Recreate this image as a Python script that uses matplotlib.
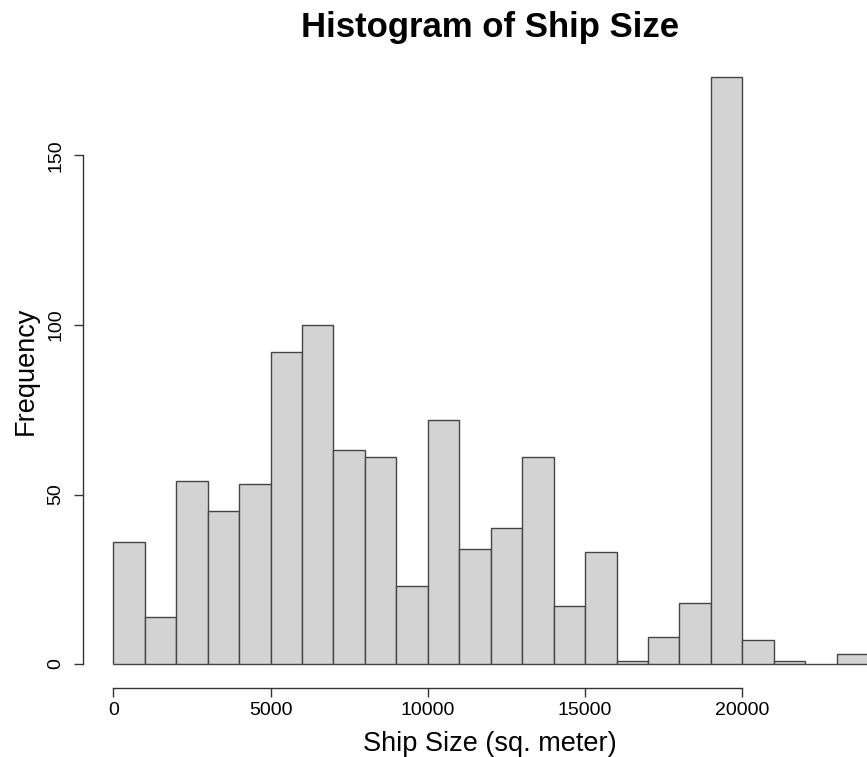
import numpy as np
import matplotlib
matplotlib.use('Agg')
import matplotlib.pyplot as plt

plt.rcParams['font.family'] = ['Liberation Sans', 'DejaVu Sans']

# histogram breaks (1000 sq. m bins) and counts per bin
breaks = np.arange(0, 25000, 1000)
counts = [36, 14, 54, 45, 53, 92, 100, 63, 61, 23, 72, 34,
          40, 61, 17, 33, 1, 8, 18, 173, 7, 1, 0, 3]
xticks = [0, 5000, 10000, 15000, 20000]
yticks = [0, 50, 100, 150]

W, H = 867, 757
fig = plt.figure(figsize=(W / 100, H / 100), dpi=100)

# plot region runs a bit past the right edge of the figure
left, right = 83.1, 898.3
top, bottom = 54.0, 687.5
ax = fig.add_axes([left / W, 1 - bottom / H, (right - left) / W, (bottom - top) / H])

ax.bar(breaks[:-1], counts, width=1000, align='edge',
       color='#d3d3d3', edgecolor='#454545', linewidth=1.0)

xr = breaks[-1] - breaks[0]
ax.set_xlim(breaks[0] - 0.04 * xr, breaks[-1] + 0.04 * xr)
ymax = max(counts)
ax.set_ylim(-0.04 * ymax, ymax * 1.04)

for s in ['top', 'right']:
    ax.spines[s].set_visible(False)
ax.spines['left'].set_bounds(yticks[0], yticks[-1])
ax.spines['bottom'].set_bounds(xticks[0], xticks[-1])
for s in ['left', 'bottom']:
    ax.spines[s].set_color('#333333')
    ax.spines[s].set_linewidth(1.0)

ax.set_xticks(xticks)
ax.set_yticks(yticks)
ax.set_xticklabels([str(t) for t in xticks])
ax.set_yticklabels([str(t) for t in yticks], rotation=90, va='center')
ax.tick_params(axis='both', length=6.5, width=1.0, color='#333333',
               labelsize=14, labelcolor='black')
ax.tick_params(axis='x', pad=4)
ax.tick_params(axis='y', pad=7)

fig.text(490 / W, 1 - 28 / H, 'Histogram of Ship Size', ha='center', va='center',
         fontsize=25, fontweight='bold')
fig.text(490 / W, 1 - 744 / H, 'Ship Size (sq. meter)', ha='center', va='center',
         fontsize=19.5)
fig.text(26 / W, 1 - 371 / H, 'Frequency', ha='center', va='center',
         fontsize=19.5, rotation=90)

fig.savefig('out.png', dpi=100)
